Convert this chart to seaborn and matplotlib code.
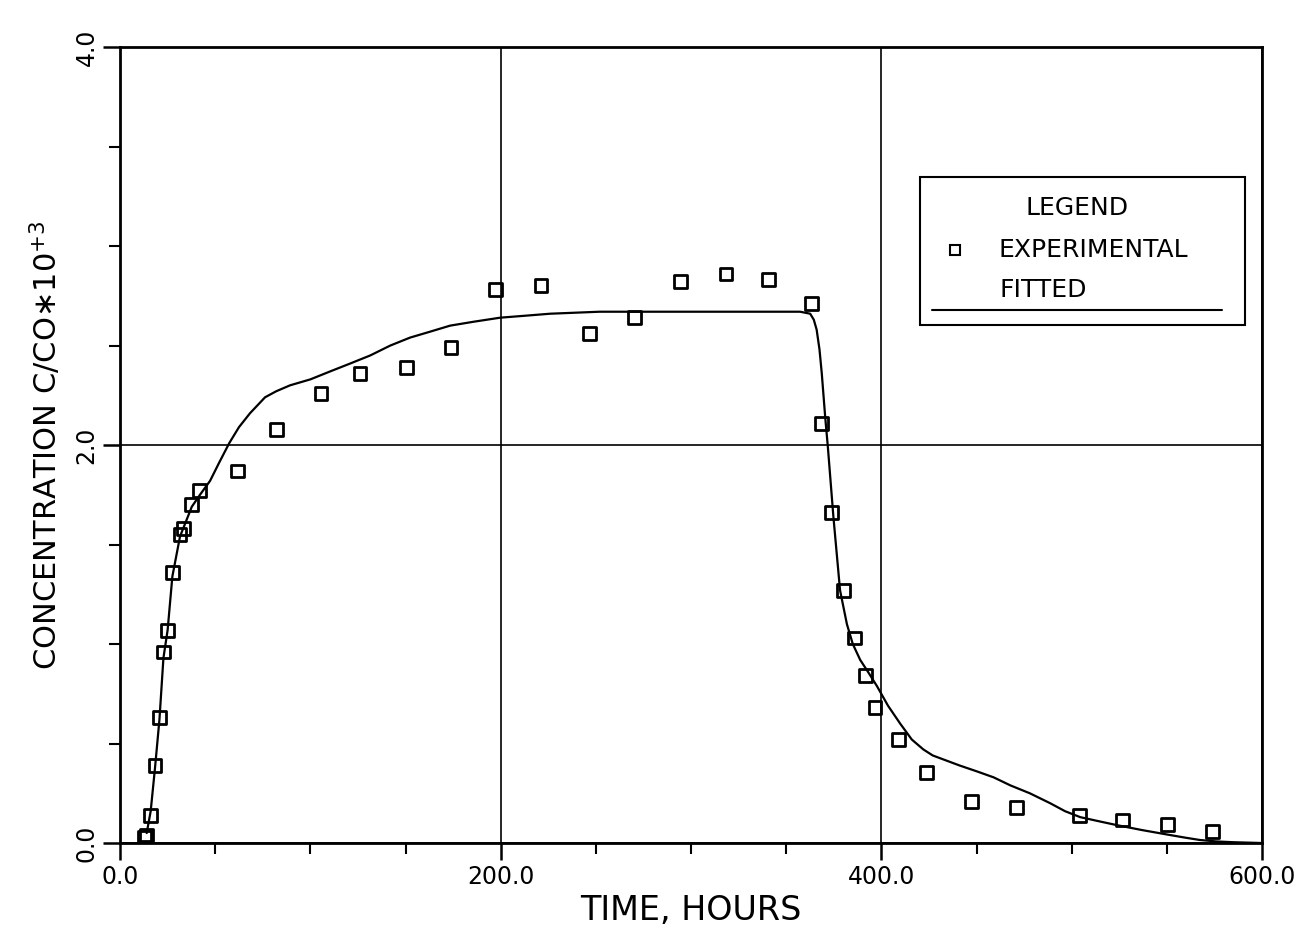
# Breakthrough curve: experimental points vs fitted curve
import matplotlib.pyplot as plt
import matplotlib.ticker as mticker
import pandas as pd
import seaborn as sns

# --- Data ---
exp_time = [13.0, 14.0, 16.1, 18.4, 20.7, 22.8, 25.0, 27.5, 31.5, 33.3, 37.7, 41.7,
            61.8, 82.0, 105.6, 126.1, 150.3, 173.9, 197.1, 221.2, 246.5, 270.1,
            294.3, 318.4, 340.5, 363.1, 368.4, 374.0, 380.1, 385.7, 391.8, 396.7,
            409.0, 423.9, 447.5, 471.2, 504.1, 526.9, 550.5, 574.2]
exp_conc = [0.03, 0.04, 0.14, 0.39, 0.63, 0.96, 1.07, 1.36, 1.55, 1.58, 1.70, 1.77,
            1.87, 2.08, 2.26, 2.36, 2.39, 2.49, 2.78, 2.80, 2.56, 2.64,
            2.82, 2.86, 2.83, 2.71, 2.11, 1.66, 1.27, 1.03, 0.84, 0.68,
            0.52, 0.355, 0.21, 0.18, 0.137, 0.116, 0.094, 0.057]

fit_time = [14.0, 16.1, 18.4, 20.7, 22.8, 25.0, 27.5, 31.5, 37.7, 42.0, 47.3, 52.0,
            57.4, 62.5, 68.3, 76.2, 82.0, 89.3, 100.0, 110.4, 121.0, 131.4, 142.0,
            152.4, 163.0, 173.4, 186.0, 199.7, 213.0, 226.0, 252.0, 304.8,
            357.3, 362.6, 364.5, 366.0, 367.5, 368.7, 370.5, 371.9, 374.8, 378.3,
            381.9, 385.0, 388.9, 393.0, 397.6, 403.5, 409.9, 416.0, 422.1, 427.0,
            432.6, 441.0, 450.2, 459.0, 467.7, 478.0, 488.7, 496.5, 504.5, 514.0,
            523.7, 537.0, 550.0, 559.0, 567.5, 576.0, 585.0, 600.0]
fit_conc = [0.05, 0.16, 0.38, 0.62, 0.93, 1.07, 1.34, 1.54, 1.69, 1.75, 1.82, 1.91,
            2.01, 2.09, 2.16, 2.24, 2.27, 2.30, 2.33, 2.37, 2.41, 2.45, 2.50,
            2.54, 2.57, 2.60, 2.62, 2.64, 2.65, 2.66, 2.67, 2.67,
            2.67, 2.66, 2.63, 2.58, 2.48, 2.36, 2.14, 1.99, 1.64, 1.27,
            1.10, 1.00, 0.92, 0.86, 0.79, 0.69, 0.60, 0.52, 0.47, 0.44,
            0.42, 0.39, 0.36, 0.33, 0.29, 0.25, 0.20, 0.16, 0.13, 0.11,
            0.09, 0.065, 0.043, 0.028, 0.015, 0.008, 0.004, 0.0]

df_exp = pd.DataFrame({"time": exp_time, "conc": exp_conc})
df_fit = pd.DataFrame({"time": fit_time, "conc": fit_conc})

# --- Plot ---
sns.set_style("white")
plt.rcParams["font.family"] = ["DejaVu Sans"]
plt.rcParams["mathtext.default"] = "regular"
plt.rcParams["text.color"] = "black"
plt.rcParams["axes.labelcolor"] = "black"
plt.rcParams["xtick.color"] = "black"
plt.rcParams["ytick.color"] = "black"

fig = plt.figure(figsize=(13.09, 9.47), dpi=100)
ax = fig.add_axes([0.0917, 0.1098, 0.8724, 0.8405])

sns.lineplot(data=df_fit, x="time", y="conc", color="black", linewidth=1.6,
             sort=False, ax=ax)
sns.scatterplot(data=df_exp, x="time", y="conc", marker="s", s=85,
                facecolor="none", edgecolor="black", linewidth=2.0, ax=ax)

ax.set_xlim(0, 600)
ax.set_ylim(0, 4.0)
ax.xaxis.set_major_locator(mticker.MultipleLocator(200))
ax.xaxis.set_minor_locator(mticker.MultipleLocator(50))
ax.yaxis.set_major_locator(mticker.MultipleLocator(2.0))
ax.yaxis.set_minor_locator(mticker.MultipleLocator(0.5))
ax.xaxis.set_major_formatter(mticker.FormatStrFormatter("%.1f"))
ax.yaxis.set_major_formatter(mticker.FormatStrFormatter("%.1f"))

ax.tick_params(which="major", direction="out", length=12, width=1.8,
               labelsize=17, color="black", labelcolor="black",
               bottom=True, left=True)
ax.tick_params(which="minor", direction="out", length=8, width=1.5,
               bottom=True, left=True)
for lab in ax.get_yticklabels():
    lab.set_rotation(90)
    lab.set_va("center")

ax.grid(True, which="major", color="black", linewidth=1.2)
for sp in ax.spines.values():
    sp.set_color("black")
    sp.set_linewidth(2.0)

ax.set_xlabel("TIME, HOURS", fontsize=24, labelpad=4, color="black")
ax.set_ylabel("CONCENTRATION C/CO\u221710$^{+3}$", fontsize=22, labelpad=8,
              color="black")

# legend box, drawn like the plotter original
ax.add_patch(plt.Rectangle((0.7005, 0.6508), 0.2845, 0.1859, transform=ax.transAxes,
                           facecolor="white", edgecolor="black", linewidth=1.5,
                           zorder=5))
ax.text(0.838, 0.798, "LEGEND", transform=ax.transAxes, fontsize=18,
        ha="center", va="center", zorder=6)
ax.plot([0.731], [0.745], transform=ax.transAxes, marker="s", markersize=7,
        markerfacecolor="none", markeredgecolor="black", markeredgewidth=1.5,
        zorder=6)
ax.text(0.769, 0.745, "EXPERIMENTAL", transform=ax.transAxes, fontsize=18,
        ha="left", va="center", zorder=6)
ax.text(0.770, 0.695, "FITTED", transform=ax.transAxes, fontsize=18,
        ha="left", va="center", zorder=6)
ax.plot([0.711, 0.965], [0.670, 0.670], transform=ax.transAxes, color="black",
        linewidth=1.5, zorder=6)

fig.savefig("out.png", dpi=100)
